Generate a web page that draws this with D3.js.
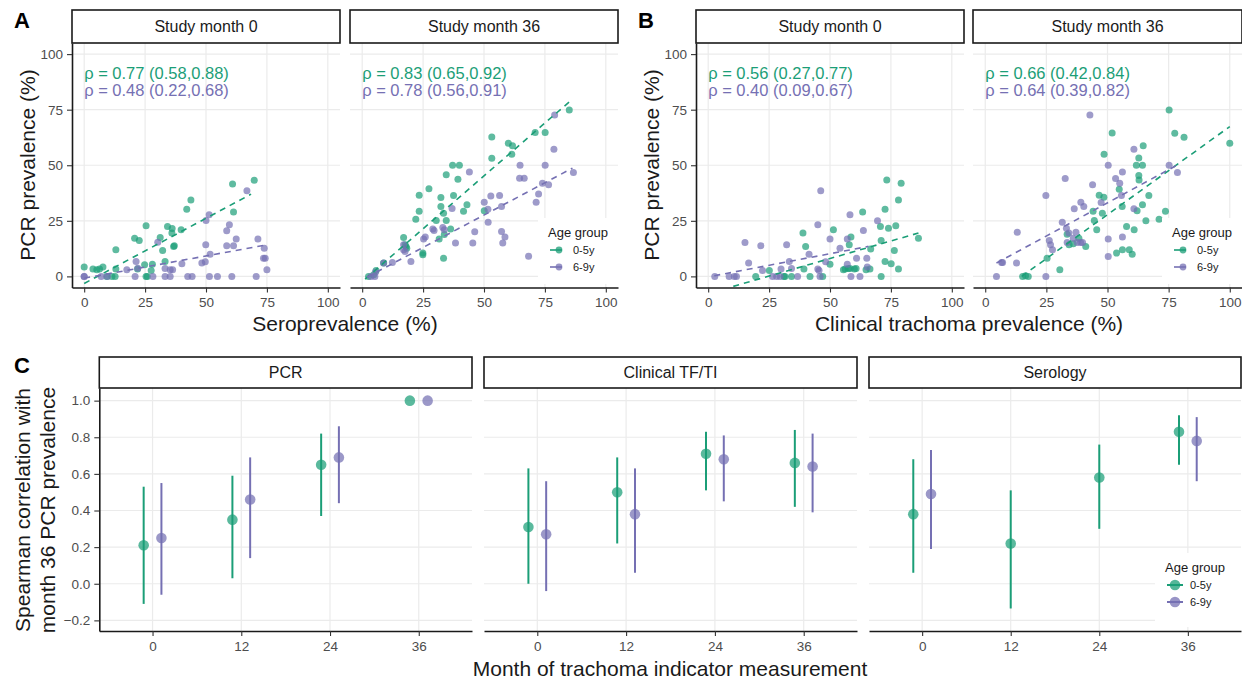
<!DOCTYPE html>
<html><head><meta charset="utf-8">
<script src="https://cdn.jsdelivr.net/npm/d3@7/dist/d3.min.js"></script>
<style>
body{margin:0;background:#fff}
svg{display:block}
text{font-family:"Liberation Sans",Arial,Helvetica,sans-serif}
</style>
</head><body>
<svg id="chart" width="1242" height="682"></svg>
<script>
// ---------------- DATA ----------------
const ageGroups = ["0-5y", "6-9y"];
const groupColors = ["#1b9e77", "#7570b3"];
const pctTicks = [0, 25, 50, 75, 100];
const corrTicks = [-0.2, 0.0, 0.2, 0.4, 0.6, 0.8, 1.0];
const monthLabels = ["0", "12", "24", "36"];
const stripTopA = ["Study month 0", "Study month 36"];
const stripC = ["PCR", "Clinical TF/TI", "Serology"];

// Panel A: seroprevalence (x) vs PCR prevalence (y)
const seroM0Young = [[0,4.2],[3.6,3.3],[5.2,3],[6.3,3.3],[7.7,4.2],[9.3,0],[11.4,0],[12.7,0],[13,3.3],[13,12],[20.7,17.2],[22.6,16.2],[21.9,3.3],[24.8,5.2],[25.4,0],[25.9,0],[25.4,22.8],[28,5.5],[27.5,2.7],[31.2,17.5],[32.2,11.7],[33.2,6.7],[34.2,22.5],[36.1,21.6],[36,19.5],[36.7,13.5],[37,13.8],[39.8,21],[42.1,30.2],[43.8,34.4],[60.9,41.6],[61.3,29],[69.8,43.3]];
const seroM0Old = [[0,0],[0,0],[7,0],[9.5,0],[17.5,3],[20.9,0],[21.3,6.7],[22,3.7],[28.2,0],[30.2,15.4],[33.2,0],[35.3,0],[33.2,3.6],[35.3,3],[36.3,3],[40.1,5.7],[42.5,0],[44.3,0],[48.3,6],[49.7,6.6],[49.9,14.2],[50,25.1],[51.3,27.7],[51.7,10],[51.4,0],[54.7,0],[58.5,20.5],[59.6,23.2],[58.5,13.8],[61.3,13.8],[62.4,16.8],[60.6,0],[66.8,38.5],[70.6,0],[71.3,16.8],[73.9,12.7],[73.6,8.2],[74.3,8.2],[75,3]];
const seroM36Young = [[2.6,0],[4.7,0.7],[5.7,2.7],[8.8,6],[17,17.5],[17.6,14.2],[18,13.5],[18.3,12.7],[22,25.7],[23.4,36.5],[23.4,29.3],[24.9,10.5],[24.9,9.7],[27.4,39.4],[30.4,25.1],[31.6,16.8],[32.3,35.5],[32.3,31.4],[33.4,28.4],[33.7,18.9],[33.4,8.2],[34.5,25.1],[34.5,45.7],[36.3,21.3],[37.1,50],[39.9,50],[37.5,36.4],[39.3,43.7],[41.6,29.3],[43,32.2],[50.1,29.5],[53.2,62.7],[53.2,53.1],[60,59.9],[61.7,58.8],[61.4,54.9],[71,64.7],[75.1,64.7],[85,74.9]];
const seroM36Old = [[3.6,0],[5.2,0],[5.5,2],[8.8,6],[12.4,6.3],[17,14.2],[17,12],[17.6,11.2],[20,6.7],[25.2,16.8],[25.9,17.7],[29,21.3],[29.5,20.7],[33.1,22],[33.7,21],[36.9,30.5],[38.3,15],[44,47],[45.4,15],[46.2,20.1],[50.1,33.4],[51.6,30.2],[51.7,24.3],[52.8,36.2],[56.4,36.4],[57.2,31.4],[57.2,20.2],[58.6,17.7],[57.7,15],[64.8,50],[64.6,44.2],[66.5,44.2],[68.3,9.1],[71.4,33.4],[72.4,37.1],[74,41.9],[75.1,50],[76.5,41.2],[78.7,57.2],[79,72.6],[86.7,46.7]];

// Panel B: clinical trachoma prevalence (x) vs PCR prevalence (y)
const clinM0Young = [[19.5,0],[25.1,2.7],[31.1,0],[31.5,0],[34.2,0],[38.9,19.5],[40,13.5],[39.3,3.3],[41.8,0],[47,0],[50,5.5],[51.4,21],[55.5,3],[56.2,3.3],[57.5,3.6],[58.2,3.6],[60,3.3],[57.9,14.2],[58.6,17.7],[60.7,3.6],[63.4,29],[64.8,3],[66.4,3.3],[66.7,12.3],[70.7,22.5],[71,16.2],[71,0],[72.6,30.2],[73.3,43.4],[72.6,6.7],[74,21.7],[75.1,5.7],[76.4,11.7],[77,22.8],[78.1,34.4],[78.1,3.3],[79.2,41.9],[86.3,17.2]];
const clinM0Old = [[2.7,0],[8.6,0],[10.7,0],[11.6,0],[15.1,15.3],[16.6,6],[21.6,13.8],[22.3,2.7],[26.4,0],[28.1,0],[29.5,0],[29.9,3.3],[32.2,14.2],[33.3,6.7],[34.2,3.6],[36.7,0],[41.4,10],[45,23.2],[45,3.3],[45.5,2.7],[46.2,38.5],[45.9,0],[48.2,6.6],[50,16.8],[54.1,12.7],[57.1,16.8],[57.1,5.5],[58.2,27.7],[58.6,0],[60.9,8.2],[62.3,0],[63.7,20.7],[65.1,8.2],[65.3,4.2],[69.5,25]];
const clinM36Young = [[15.3,0],[16.5,0.3],[17.6,0],[25.3,8.2],[30.5,3],[33.5,19],[34.3,14.2],[36,14.7],[38.3,17.2],[41.1,13.5],[44.1,29.3],[44.6,25.1],[45.6,21],[46.6,36.5],[48.5,35.6],[47.9,28.4],[48.6,54.9],[51.9,64.5],[53.7,10.5],[54.8,39.2],[56,31.4],[56.1,12],[57.8,22.5],[58.9,12],[60.1,10],[60.9,21],[61.8,50],[64.3,50],[62.1,29.5],[62.8,53.3],[62.8,45.4],[62.9,43.4],[64.6,58.8],[64.3,32.2],[65.7,25],[66.9,36.4],[71.1,25.7],[73.7,29.3],[75.2,74.9],[77.5,64.4],[81.3,62.6],[100,59.9]];
const clinM36Old = [[4.6,0],[6.7,6.3],[7.1,6.3],[12.8,6],[13.1,19.9],[24.8,0],[24.8,36.4],[26.2,16.2],[26.7,14.2],[27.5,12],[31.5,24.3],[32.7,44],[33.2,21.7],[34.2,19.5],[33.5,15.3],[36.4,30.4],[37.1,19.9],[36,17.2],[37.6,15.3],[39,15.3],[39.8,15.3],[39.1,33.4],[40.3,31.4],[42.8,72.6],[43.9,41.2],[47.4,33.2],[50.3,50],[50.3,16.8],[50.3,9],[53.3,44],[55,41.9],[55.7,36.4],[56.1,47],[56.1,17.7],[60.8,57.2],[60.8,30.4],[75.2,50],[78.6,46.7]];

// Linear fits (dashed): [xStart, yStart, xEnd, yEnd] per age group
const fitSeroM0 = [[0,-3.2,68.5,37.0],[0,-0.8,75,14.2]];
const fitSeroM36 = [[1.2,-1.2,85.1,78.6],[1.9,-0.4,86.3,48.7]];
const fitClinM0 = [[10.3,-4.5,86.3,19.5],[2.5,0.3,65.8,13.5]];
const fitClinM36 = [[14.9,0,100,67.4],[4.6,6,78.2,49.9]];

// Spearman labels
const rhoSeroM0 = ["ρ = 0.77 (0.58,0.88)", "ρ = 0.48 (0.22,0.68)"];
const rhoSeroM36 = ["ρ = 0.83 (0.65,0.92)", "ρ = 0.78 (0.56,0.91)"];
const rhoClinM0 = ["ρ = 0.56 (0.27,0.77)", "ρ = 0.40 (0.09,0.67)"];
const rhoClinM36 = ["ρ = 0.66 (0.42,0.84)", "ρ = 0.64 (0.39,0.82)"];

// Panel C: Spearman correlation with month-36 PCR prevalence (estimate, lower, upper) by month
const pcrYoungEst = [0.21, 0.35, 0.65, 1.00];
const pcrYoungLo  = [-0.11, 0.03, 0.37, 1.00];
const pcrYoungHi  = [0.53, 0.59, 0.82, 1.00];
const pcrOldEst = [0.25, 0.46, 0.69, 1.00];
const pcrOldLo  = [-0.06, 0.14, 0.44, 1.00];
const pcrOldHi  = [0.55, 0.69, 0.86, 1.00];
const clinYoungEst = [0.31, 0.50, 0.71, 0.66];
const clinYoungLo  = [0.00, 0.22, 0.51, 0.42];
const clinYoungHi  = [0.63, 0.69, 0.83, 0.84];
const clinOldEst = [0.27, 0.38, 0.68, 0.64];
const clinOldLo  = [-0.04, 0.06, 0.45, 0.39];
const clinOldHi  = [0.56, 0.63, 0.81, 0.82];
const seroYoungEst = [0.38, 0.22, 0.58, 0.83];
const seroYoungLo  = [0.06, -0.135, 0.30, 0.65];
const seroYoungHi  = [0.68, 0.51, 0.76, 0.92];
const seroOldEst = [0.49, null, null, 0.78];
const seroOldLo  = [0.19, null, null, 0.56];
const seroOldHi  = [0.73, null, null, 0.91];

// ---------------- DRAWING ----------------
const svg = d3.select("#chart");
const INK = "#1a1a1a", GRID = "#ebebeb", TICKTXT = "#4d4d4d";
let clipCount = 0;

function styleAxis(sel) {
  sel.select(".domain").attr("stroke", INK).attr("stroke-width", 1.6);
  sel.selectAll(".tick line").attr("stroke", "#333").attr("stroke-width", 1.1);
  sel.selectAll(".tick text").attr("fill", TICKTXT).style("font-size", "13.5px")
     .style("font-family", '"Liberation Sans",Arial,sans-serif');
}

function strip(x0, x1, y0, y1, label) {
  svg.append("rect").attr("x", x0).attr("y", y0).attr("width", x1 - x0).attr("height", y1 - y0)
    .attr("fill", "#fff").attr("stroke", INK).attr("stroke-width", 1.6);
  svg.append("text").attr("x", (x0 + x1) / 2).attr("y", (y0 + y1) / 2).attr("dy", "0.36em")
    .attr("text-anchor", "middle").attr("fill", INK).style("font-size", "16px").text(label);
}

function legend(x0, y0, x1, y1, kind) {
  svg.append("rect").attr("x", x0).attr("y", y0).attr("width", x1 - x0).attr("height", y1 - y0).attr("fill", "#fff");
  svg.append("text").attr("x", x0 + 10).attr("y", y0 + 14).attr("dy", "0.36em")
    .style("font-size", "13px").attr("fill", INK).text("Age group");
  ageGroups.forEach((g, i) => {
    const cy = y0 + 32 + i * 17;
    const kx = x0 + 12;
    if (kind === "scatter") {
      svg.append("line").attr("x1", kx).attr("x2", kx + 12).attr("y1", cy).attr("y2", cy)
        .attr("stroke", groupColors[i]).attr("stroke-width", 1.6);
      svg.append("circle").attr("cx", kx + 9).attr("cy", cy).attr("r", 3.4)
        .attr("fill", groupColors[i]).attr("fill-opacity", 0.75);
    } else {
      svg.append("line").attr("x1", kx).attr("x2", kx + 16).attr("y1", cy).attr("y2", cy)
        .attr("stroke", groupColors[i]).attr("stroke-width", 2);
      svg.append("circle").attr("cx", kx + 8).attr("cy", cy).attr("r", 5.3)
        .attr("fill", groupColors[i]).attr("fill-opacity", 0.75);
    }
    svg.append("text").attr("x", kx + 23).attr("y", cy).attr("dy", "0.36em")
      .style("font-size", "11px").attr("fill", INK).text(g);
  });
}

const TOP = 43, BOT = 287.5;
function scatterFacet(x0, x1, label, seriesList, fits, rhos, showY) {
  const x = d3.scaleLinear().domain([-5, 105]).range([x0, x1]);
  const y = d3.scaleLinear().domain([-5, 105]).range([BOT, TOP]);
  const g = svg.append("g");
  g.selectAll(".gx").data(pctTicks).join("line")
    .attr("x1", d => x(d)).attr("x2", d => x(d)).attr("y1", TOP).attr("y2", BOT)
    .attr("stroke", GRID).attr("stroke-width", 1.2);
  g.selectAll(".gy").data(pctTicks).join("line")
    .attr("x1", x0).attr("x2", x1).attr("y1", d => y(d)).attr("y2", d => y(d))
    .attr("stroke", GRID).attr("stroke-width", 1.2);
  const id = "clip" + (clipCount++);
  svg.append("clipPath").attr("id", id).append("rect")
    .attr("x", x0).attr("y", TOP).attr("width", x1 - x0).attr("height", BOT - TOP);
  const pg = g.append("g").attr("clip-path", `url(#${id})`);
  seriesList.forEach((pts, i) => {
    pg.append("g").selectAll("circle").data(pts).join("circle")
      .attr("cx", d => x(d[0])).attr("cy", d => y(d[1])).attr("r", 3.5)
      .attr("fill", groupColors[i]).attr("fill-opacity", 0.7);
  });
  fits.forEach((f, i) => {
    pg.append("line").attr("x1", x(f[0])).attr("y1", y(f[1])).attr("x2", x(f[2])).attr("y2", y(f[3]))
      .attr("stroke", groupColors[i]).attr("stroke-width", 1.6).attr("stroke-dasharray", "6,5");
  });
  rhos.forEach((t, i) => {
    g.append("text").attr("x", x(0)).attr("y", y(i === 0 ? 91.6 : 83.8)).attr("dy", "0.36em")
      .attr("fill", groupColors[i]).style("font-size", "16.5px").text(t);
  });
  const ax = g.append("g").attr("transform", `translate(0,${BOT})`)
    .call(d3.axisBottom(x).tickValues(pctTicks).tickSize(5).tickSizeOuter(0).tickPadding(5));
  styleAxis(ax);
  if (showY) {
    const ay = g.append("g").attr("transform", `translate(${x0},0)`)
      .call(d3.axisLeft(y).tickValues(pctTicks).tickSize(5).tickSizeOuter(0).tickPadding(4));
    styleAxis(ay);
  }
  strip(x0, x1, 10, TOP, label);
}

// Panel A
scatterFacet(72, 340, stripTopA[0], [seroM0Young, seroM0Old], fitSeroM0, rhoSeroM0, true);
scatterFacet(350, 618, stripTopA[1], [seroM36Young, seroM36Old], fitSeroM36, rhoSeroM36, false);
legend(538, 218, 618, 284, "scatter");
// Panel B
scatterFacet(696, 964, stripTopA[0], [clinM0Young, clinM0Old], fitClinM0, rhoClinM0, true);
scatterFacet(973, 1242, stripTopA[1], [clinM36Young, clinM36Old], fitClinM36, rhoClinM36, false);
legend(1162, 218, 1242, 284, "scatter");

// Titles for A and B
function ytitle(cx, cy, lines) {
  const t = svg.append("text").attr("transform", `translate(${cx},${cy}) rotate(-90)`)
    .attr("text-anchor", "middle").attr("fill", INK).style("font-size", "21px");
  lines.forEach((l, i) => t.append("tspan").attr("x", 0).attr("dy", i === 0 ? 0 : "1.2em").text(l));
}
ytitle(35, 165, ["PCR prevalence (%)"]);
ytitle(659, 165, ["PCR prevalence (%)"]);
svg.append("text").attr("x", (72 + 618) / 2).attr("y", 331).attr("text-anchor", "middle")
  .attr("fill", INK).style("font-size", "21px").text("Seroprevalence (%)");
svg.append("text").attr("x", (696 + 1242) / 2).attr("y", 331).attr("text-anchor", "middle")
  .attr("fill", INK).style("font-size", "21px").text("Clinical trachoma prevalence (%)");

// Panel C
const CTOP = 388, CBOT = 631;
const yC = d3.scaleLinear().domain([-0.258, 1.069]).range([CBOT, CTOP]);
const cFacets = [
  {x0: 99.3, x1: 472, label: stripC[0], young: [pcrYoungEst, pcrYoungLo, pcrYoungHi], old: [pcrOldEst, pcrOldLo, pcrOldHi]},
  {x0: 484, x1: 857, label: stripC[1], young: [clinYoungEst, clinYoungLo, clinYoungHi], old: [clinOldEst, clinOldLo, clinOldHi]},
  {x0: 869, x1: 1241, label: stripC[2], young: [seroYoungEst, seroYoungLo, seroYoungHi], old: [seroOldEst, seroOldLo, seroOldHi]}
];
cFacets.forEach((f, fi) => {
  const xC = d3.scalePoint().domain(monthLabels).range([f.x0, f.x1]).padding(0.6);
  const step = xC.step();
  const g = svg.append("g");
  g.selectAll(".gx").data(monthLabels).join("line")
    .attr("x1", d => xC(d)).attr("x2", d => xC(d)).attr("y1", CTOP).attr("y2", CBOT)
    .attr("stroke", GRID).attr("stroke-width", 1.2);
  g.selectAll(".gy").data(corrTicks).join("line")
    .attr("x1", f.x0).attr("x2", f.x1).attr("y1", d => yC(d)).attr("y2", d => yC(d))
    .attr("stroke", GRID).attr("stroke-width", 1.2);
  const rows = [];
  monthLabels.forEach((m, mi) => {
    const nPresent = [f.young, f.old].filter(s => s[0][mi] !== null).length;
    [f.young, f.old].forEach((s, gi) => {
      if (s[0][mi] === null) return;
      const off = nPresent === 2 ? (gi === 0 ? -0.1 : 0.1) * step : 0;
      rows.push({x: xC(m) + off, est: s[0][mi], lo: s[1][mi], hi: s[2][mi], gi});
    });
  });
  g.selectAll(".eb").data(rows).join("line")
    .attr("x1", d => d.x).attr("x2", d => d.x).attr("y1", d => yC(d.lo)).attr("y2", d => yC(d.hi))
    .attr("stroke", d => groupColors[d.gi]).attr("stroke-width", 2);
  g.selectAll(".pt").data(rows).join("circle")
    .attr("cx", d => d.x).attr("cy", d => yC(d.est)).attr("r", 5.3)
    .attr("fill", d => groupColors[d.gi]).attr("fill-opacity", 0.72);
  const ax = g.append("g").attr("transform", `translate(0,${CBOT})`)
    .call(d3.axisBottom(xC).tickSize(5).tickSizeOuter(0).tickPadding(5));
  styleAxis(ax);
  if (fi === 0) {
    const ay = g.append("g").attr("transform", `translate(${f.x0},0)`)
      .call(d3.axisLeft(yC).tickValues(corrTicks).tickFormat(d3.format(".1f")).tickSize(5).tickSizeOuter(0).tickPadding(4));
    styleAxis(ay);
  }
  strip(f.x0, f.x1, 357, CTOP, f.label);
});
legend(1155, 553, 1241, 627, "range");
ytitle(30, 510, ["Spearman correlation with", "month 36 PCR prevalence"]);
svg.append("text").attr("x", 670).attr("y", 676).attr("text-anchor", "middle")
  .attr("fill", INK).style("font-size", "21px").text("Month of trachoma indicator measurement");

// Panel letters
[["A", 14, 28], ["B", 638, 28], ["C", 14, 373]].forEach(([t, px, py]) => {
  svg.append("text").attr("x", px).attr("y", py).attr("fill", "#000")
    .style("font-size", "22px").style("font-weight", "bold").text(t);
});
</script>
</body></html>
